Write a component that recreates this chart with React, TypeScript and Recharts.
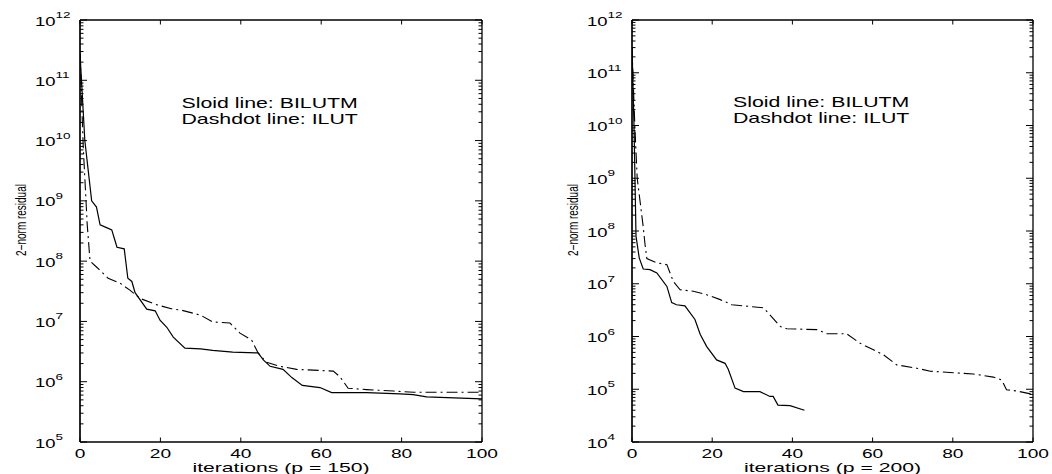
import React from 'react';
import { LineChart, Line, XAxis, YAxis } from 'recharts';

const FONT = '"Liberation Sans", Arial, Helvetica, sans-serif';
// the reference text is stretched sideways
const SX = 1.42;

// p = 150
const iterBilutm150 = [0, 1.2, 2.9, 4.1, 5, 6.6, 7.9, 8.7, 9.2, 11, 11.9, 12.9, 13.7, 16.6, 18.7, 19.9, 21.6, 23.2, 26.1, 30, 33, 38, 44.3, 45.6, 47.3, 50.5, 52.7, 55.3, 59.7, 62.6, 71.3, 79.6, 82.9, 86.2, 100];
const resBilutm150 = [2.8e11, 1e10, 1e9, 7.9e8, 4e8, 3.6e8, 3.3e8, 2.2e8, 1.7e8, 1.6e8, 5.2e7, 4.6e7, 3e7, 1.6e7, 1.5e7, 1.05e7, 8e6, 5.5e6, 3.6e6, 3.5e6, 3.3e6, 3.1e6, 3e6, 2.3e6, 1.8e6, 1.6e6, 1.17e6, 8.7e5, 8e5, 6.6e5, 6.6e5, 6.3e5, 6.1e5, 5.6e5, 5.2e5];
const iterIlut150 = [0, 0.8, 1.8, 2.5, 4.1, 7, 10, 12.4, 15, 19, 23, 25, 30, 33, 37.3, 39.8, 42.7, 44.3, 46.4, 49.8, 53.9, 63, 64.7, 66.7, 71.3, 78, 83, 100];
const resIlut150 = [2.8e11, 8e9, 4e8, 1e8, 8e7, 5.2e7, 4.3e7, 3.3e7, 2.4e7, 1.9e7, 1.6e7, 1.55e7, 1.27e7, 9.8e6, 9.4e6, 6.4e6, 4.9e6, 3e6, 2.1e6, 1.8e6, 1.6e6, 1.5e6, 1.2e6, 7.8e5, 7.4e5, 7e5, 6.7e5, 6.7e5];

// p = 200
const iterBilutm200 = [0, 0.5, 1, 1.8, 2.8, 4.5, 6.2, 8.7, 9.9, 11.1, 13.2, 15.7, 17, 18.6, 21.1, 23.2, 24, 25.7, 27.8, 31.9, 34.4, 35.2, 36.4, 39.4, 43];
const resBilutm200 = [3e11, 1e10, 8e7, 3.1e7, 1.9e7, 1.85e7, 1.6e7, 8.9e6, 4.4e6, 4e6, 3.8e6, 2.1e6, 1.1e6, 6.5e5, 3.6e5, 3.1e5, 2.4e5, 1.05e5, 9e4, 9e4, 7.3e4, 7.3e4, 5e4, 4.9e4, 4e4];
const iterIlut200 = [0, 0.7, 1.3, 2.8, 3.2, 3.7, 6.2, 8.7, 10.3, 12, 15.3, 18.6, 22, 24.9, 32.8, 37, 38.6, 46.1, 48.6, 53.5, 56.8, 60.2, 62.7, 66, 71, 74.4, 80.2, 85.1, 90.1, 92.2, 93.4, 95.9, 100];
const resIlut200 = [3e11, 1e10, 1e9, 1.2e8, 6e7, 3e7, 2.5e7, 2.3e7, 1.1e7, 7.7e6, 7.2e6, 6.2e6, 5e6, 4e6, 3.5e6, 1.55e6, 1.4e6, 1.35e6, 1.13e6, 1.13e6, 7.5e5, 5.6e5, 4.5e5, 2.9e5, 2.5e5, 2.2e5, 2.05e5, 1.95e5, 1.7e5, 1.5e5, 9.8e4, 9.3e4, 8e4];

const xTicks = [0, 20, 40, 60, 80, 100];
const decades150 = [5, 6, 7, 8, 9, 10, 11, 12];
const decades200 = [4, 5, 6, 7, 8, 9, 10, 11, 12];
const legendLines = ['Sloid line: BILUTM', 'Dashdot line: ILUT'];
const yLabel = '2\u2212norm residual';

const toPoints = (xs: number[], ys: number[]) => xs.map((x, i) => ({ x, y: ys[i] }));

const logTicks = (exps: number[]) =>
  exps.flatMap((e, i) =>
    i === exps.length - 1 ? [Math.pow(10, e)] : [1, 2, 3, 4, 5, 6, 7, 8, 9].map(m => m * Math.pow(10, e))
  );

const expOf = (v: number) => Math.round(Math.log10(v));
const isMajor = (v: number) => Math.abs(Math.log10(v) - expOf(v)) < 1e-6;

const LeftTick = (props: any) => {
  const { x, y, payload } = props;
  const v = payload.value;
  const major = isMajor(v);
  return (
    <g>
      <line x1={x} y1={y} x2={x + (major ? 7 : 3.5)} y2={y} stroke="#000" strokeWidth={1} />
      {major && (
        <g transform={`translate(${x - 45},${y + 5.5}) scale(${SX},1)`}>
          <text fontFamily={FONT} fontSize={13} fill="#000">
            10<tspan dy={-7.5} fontSize={9.5}>{expOf(v)}</tspan>
          </text>
        </g>
      )}
    </g>
  );
};

const RightTick = (props: any) => {
  const { x, y, payload } = props;
  const major = isMajor(payload.value);
  return <line x1={x} y1={y} x2={x - (major ? 7 : 3.5)} y2={y} stroke="#000" strokeWidth={1} />;
};

const BottomTick = (props: any) => {
  const { x, y, payload } = props;
  return (
    <g>
      <line x1={x} y1={y} x2={x} y2={y - 4.5} stroke="#000" strokeWidth={1} />
      <g transform={`translate(${x},${y + 15.5}) scale(${SX},1)`}>
        <text textAnchor="middle" fontFamily={FONT} fontSize={13.5} fill="#000">
          {payload.value}
        </text>
      </g>
    </g>
  );
};

const TopTick = (props: any) => {
  const { x, y } = props;
  return <line x1={x} y1={y} x2={x} y2={y + 4.5} stroke="#000" strokeWidth={1} />;
};

interface PanelProps {
  solid: { x: number; y: number }[];
  dashdot: { x: number; y: number }[];
  decades: number[];
  xLabel: string;
  plot: { left: number; right: number };
  legendX: number;
  legendY: number;
}

const W = 526;
const H = 474;
const PLOT_TOP = 20;
const PLOT_BOTTOM = 442;

const Panel: React.FC<PanelProps> = ({ solid, dashdot, decades, xLabel, plot, legendX, legendY }) => {
  const yDomain = [Math.pow(10, decades[0]), Math.pow(10, decades[decades.length - 1])];
  const yTicks = logTicks(decades);
  const plotCx = (plot.left + plot.right) / 2;
  // each axis takes 1px of room, so margins are 1px short of the plot box
  const margin = { top: PLOT_TOP - 1, right: W - plot.right - 1, bottom: H - PLOT_BOTTOM - 1, left: plot.left - 1 };
  const axisStroke = { stroke: '#000', strokeWidth: 1.7 };
  return (
    <LineChart width={W} height={H} margin={margin}>
      <XAxis
        xAxisId="b"
        type="number"
        dataKey="x"
        domain={[0, 100]}
        ticks={xTicks}
        interval={0}
        height={1}
        tickSize={0}
        tickMargin={0}
        allowDataOverflow
        axisLine={axisStroke}
        tick={<BottomTick />}
      />
      <XAxis
        xAxisId="t"
        orientation="top"
        type="number"
        dataKey="x"
        domain={[0, 100]}
        ticks={xTicks}
        interval={0}
        height={1}
        tickSize={0}
        tickMargin={0}
        allowDataOverflow
        axisLine={{ stroke: '#000', strokeWidth: 1.3 }}
        tick={<TopTick />}
      />
      <YAxis
        yAxisId="l"
        type="number"
        scale="log"
        domain={yDomain}
        ticks={yTicks}
        interval={0}
        width={1}
        tickSize={0}
        tickMargin={0}
        allowDataOverflow
        axisLine={axisStroke}
        tick={<LeftTick />}
      />
      <YAxis
        yAxisId="r"
        orientation="right"
        type="number"
        scale="log"
        domain={yDomain}
        ticks={yTicks}
        interval={0}
        width={1}
        tickSize={0}
        tickMargin={0}
        allowDataOverflow
        axisLine={{ stroke: '#000', strokeWidth: 1.3 }}
        tick={<RightTick />}
      />
      <Line
        xAxisId="b"
        yAxisId="l"
        data={dashdot}
        dataKey="y"
        type="linear"
        stroke="#000"
        strokeWidth={1.1}
        strokeDasharray="11 4 2 4"
        dot={false}
        isAnimationActive={false}
      />
      <Line
        xAxisId="b"
        yAxisId="l"
        data={solid}
        dataKey="y"
        type="linear"
        stroke="#000"
        strokeWidth={1.2}
        dot={false}
        isAnimationActive={false}
      />
      {legendLines.map((t, i) => (
        <g key={t} transform={`translate(${legendX},${legendY + i * 15.5}) scale(${SX},1)`}>
          <text fontFamily={FONT} fontSize={15} fill="#000">{t}</text>
        </g>
      ))}
      <g transform={`translate(${plotCx},471.5) scale(1.63,1)`}>
        <text textAnchor="middle" fontFamily={FONT} fontSize={13} fill="#000">{xLabel}</text>
      </g>
      <g transform={`translate(${plot.left - 54},220) scale(${SX},1) rotate(-90)`}>
        <text textAnchor="middle" fontFamily={FONT} fontSize={10} fill="#000">{yLabel}</text>
      </g>
    </LineChart>
  );
};

export default function App() {
  return (
    <div style={{ position: 'absolute', left: 0, top: 0, width: 1052, height: 474, display: 'flex', background: '#fff' }}>
      <Panel
        solid={toPoints(iterBilutm150, resBilutm150)}
        dashdot={toPoints(iterIlut150, resIlut150)}
        decades={decades150}
        xLabel="iterations (p = 150)"
        plot={{ left: 80, right: 482 }}
        legendX={181.5}
        legendY={108}
      />
      <Panel
        solid={toPoints(iterBilutm200, resBilutm200)}
        dashdot={toPoints(iterIlut200, resIlut200)}
        decades={decades200}
        xLabel="iterations (p = 200)"
        plot={{ left: 106, right: 507 }}
        legendX={207}
        legendY={107}
      />
    </div>
  );
}
